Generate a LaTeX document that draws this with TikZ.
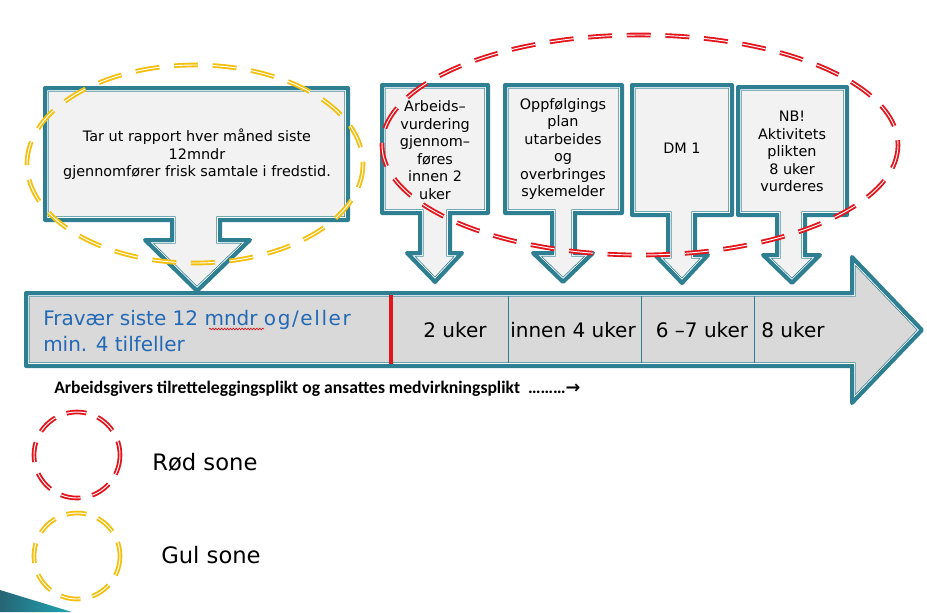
\documentclass[tikz,border=0pt]{standalone}
\usepackage{fontspec}
\setmainfont{DejaVu Sans}
\newfontfamily\carlito{Carlito}
\newfontfamily\dejavu{DejaVu Sans}
\usetikzlibrary{decorations.pathmorphing}
\definecolor{tealb}{HTML}{2F7F93}
\definecolor{boxfill}{HTML}{F2F2F2}
\definecolor{arrfill}{HTML}{D9D9D9}
\definecolor{zred}{HTML}{E3141C}
\definecolor{zyellow}{HTML}{F3C00F}
\definecolor{txtblue}{HTML}{2369B5}
\newcommand\framedshape[2]{%
  \fill[#1] #2;
  \begin{scope}
    \clip #2;
    \draw[tealb,line width=5.6pt] #2;
    \draw[white,line width=4.5pt] #2;
    \draw[tealb,line width=3pt] #2;
  \end{scope}
  \draw[tealb,line width=3pt,line join=round] #2;
}
\tikzset{
  boxtext/.style={font=\fontsize{10.8}{13.1}\selectfont, align=center, inner sep=0pt},
  weektext/.style={font=\fontsize{15}{19.5}\selectfont, inner sep=0pt},
  zone/.style={line width=1.4pt, double=white, double distance=0.7pt, dash pattern=on 18pt off 11pt},
  legendzone/.style={line width=1.4pt, double=white, double distance=0.7pt, dash pattern=on 15pt off 9pt},
  legendtext/.style={font=\fontsize{17}{20}\selectfont, anchor=west, inner sep=0pt},
}
\begin{document}
\begin{tikzpicture}[x=0.75pt,y=-0.75pt]
\useasboundingbox (0,0) rectangle (927,612);
\fill[white] (0,0) rectangle (927,612);

% callout boxes
\framedshape{boxfill}{(45,88) -- (348,88) -- (348,220) -- (220,220) -- (220,240) -- (250,240) -- (197,291) -- (145,240) -- (172,240) -- (172,220) -- (45,220) -- cycle}
\framedshape{boxfill}{(382,85) -- (488,85) -- (488,213) -- (450,213) -- (450,253) -- (462,253) -- (435,282) -- (407,253) -- (420,253) -- (420,213) -- (382,213) -- cycle}
\framedshape{boxfill}{(505,85) -- (622,85) -- (622,213) -- (575,213) -- (575,253) -- (593,253) -- (563,282) -- (533,253) -- (552,253) -- (552,213) -- (505,213) -- cycle}
\framedshape{boxfill}{(632,85) -- (732,85) -- (732,215) -- (695,215) -- (695,255) -- (708,255) -- (682,283) -- (655,255) -- (668,255) -- (668,215) -- (632,215) -- cycle}
\framedshape{boxfill}{(738,87) -- (847,87) -- (847,215) -- (805,215) -- (805,255) -- (820,255) -- (792,283) -- (763,255) -- (777,255) -- (777,215) -- (738,215) -- cycle}

% big arrow
\framedshape{arrfill}{(26,293) -- (852,293) -- (852,257) -- (922,330) -- (852,403) -- (852,366) -- (26,366) -- cycle}
\coordinate (s0t) at (391,295); \coordinate (s0b) at (391,364);
\coordinate (s1t) at (508,296); \coordinate (s1b) at (508,363);
\coordinate (s2t) at (641,296); \coordinate (s2b) at (641,363);
\coordinate (s3t) at (754,296); \coordinate (s3b) at (754,363);
\draw[zred,line width=2.3pt] (s0t) -- (s0b);
\draw[tealb,line width=0.7pt] (s1t) -- (s1b);
\draw[tealb,line width=0.7pt] (s2t) -- (s2b);
\draw[tealb,line width=0.7pt] (s3t) -- (s3b);

% texts in boxes
\node[boxtext] (t1) at (197,154.5) {Tar ut rapport hver måned siste\\12mndr\\gjennomfører frisk samtale i fredstid.};
\node[boxtext] (t2) at (435,150) {Arbeids–\\vurdering\\gjennom–\\føres\\innen 2\\uker};
\node[boxtext] (t3) at (563,149) {Oppfølgings\\plan\\utarbeides\\og\\overbringes\\sykemelder};
\node[boxtext] (t4) at (682,148) {DM 1};
\node[boxtext] (t5) at (792,151.5) {NB!\\Aktivitets\\plikten\\8 uker\\vurderes};

% texts in arrow
\node[weektext, text=txtblue, anchor=west, align=left] (fr) at (43,331) {Fravær siste 12 mndr {\addfontfeature{LetterSpace=8}og/eller}\\min. 4 tilfeller};
\draw[zred,line width=0.5pt,decorate,decoration={snake,amplitude=0.6pt,segment length=2.2pt}] (209,329) -- (264,329);
\node[weektext] (w1) at (455,330) {2 uker};
\node[weektext] (w2) at (573,330) {innen 4 uker};
\node[weektext] (w3) at (702,330) {6 –7 uker};
\node[weektext] (w4) at (793,330) {8 uker};

\node[anchor=west, inner sep=0pt, font=\carlito\bfseries\fontsize{13.2}{15}\selectfont] (plikt) at (54,389) {Arbeidsgivers tilretteleggingsplikt og ansattes medvirkningsplikt\ \ ………{\dejavu\bfseries →}};

% zone ellipses
\draw[zone, draw=zyellow] (195,164) ellipse [x radius=168, y radius=99];
\draw[zone, draw=zred] (640,145) ellipse [x radius=258, y radius=110];

% legend
\draw[legendzone, draw=zred] (77,455) circle [radius=43];
\draw[legendzone, draw=zyellow] (77,556) circle [radius=43];
\node[legendtext] (rod) at (152,462) {Rød sone};
\node[legendtext] (gul) at (161,555) {Gul sone};

% corner decoration
\shade[left color=tealb!80!black, right color=tealb!70!cyan] (0,590) -- (72,612) -- (0,612) -- cycle;
\end{tikzpicture}
\end{document}
